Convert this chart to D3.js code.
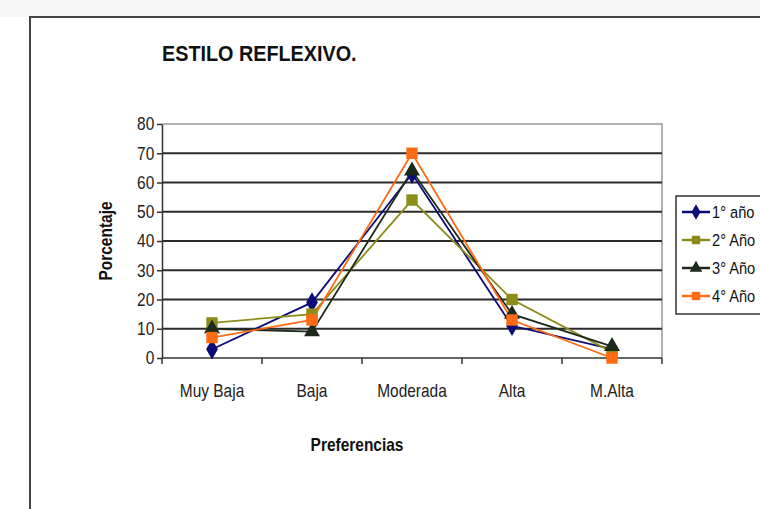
<!DOCTYPE html>
<html>
<head>
  <meta charset="utf-8">
  <script src="https://d3js.org/d3.v7.min.js"></script>
</head>
<style>
  body { margin: 0; background: #fff; }
  text { font-family: 'Liberation Sans', Arial, sans-serif; fill: #111; }
  .grid line { stroke: #2b2b2b; stroke-width: 2; }
  .axis path, .axis line { stroke: #333; stroke-width: 1.5; }
  .axis text { font-size: 18px; fill: #222; }
</style>
<body>
<script>
  // data
  var categories = ['Muy Baja', 'Baja', 'Moderada', 'Alta', 'M.Alta'];
  var seriesNames = ['1° año', '2° Año', '3° Año', '4° Año'];
  var year1 = [3, 19, 63, 11, 3];
  var year2 = [12, 15, 54, 20, 2];
  var year3 = [10, 9, 64, 15, 4];
  var year4 = [7, 13, 70, 13, 0];
  var yTicks = [0, 10, 20, 30, 40, 50, 60, 70, 80];

  var colors = ['#0a0a78', '#8c8c1a', '#1c2a1c', '#ff6a14'];
  var symbols = [d3.symbolDiamond, d3.symbolSquare, d3.symbolTriangle, d3.symbolSquare];
  var allSeries = [year1, year2, year3, year4];

  var width = 760, height = 509;
  var margin = {left: 162, right: 98, top: 124, bottom: 151};
  var narrow = 'scale(0.86,1)';

  var svg = d3.select('body').append('svg')
    .attr('width', width)
    .attr('height', height);

  // outer frame (cut by the page)
  svg.append('rect').attr('x', 0).attr('y', 0).attr('width', width).attr('height', 17).attr('fill', '#f7f7f7');
  svg.append('path')
    .attr('d', 'M30,' + (height + 2) + 'V17H' + (width + 2))
    .attr('fill', 'none').attr('stroke', '#444').attr('stroke-width', 2);

  var x = d3.scaleBand()
    .domain(categories)
    .range([margin.left, width - margin.right]);

  var y = d3.scaleLinear()
    .domain([0, 80])
    .range([height - margin.bottom, margin.top]);

  // plot border on the top and right
  svg.append('path')
    .attr('d', 'M' + margin.left + ',' + margin.top + 'H' + (width - margin.right) + 'V' + y(0))
    .attr('fill', 'none').attr('stroke', '#999').attr('stroke-width', 1.5);

  // gridlines
  svg.append('g').attr('class', 'grid')
    .selectAll('line')
    .data(yTicks.filter(function(d) { return d > 0 && d < 80; }))
    .enter().append('line')
    .attr('x1', margin.left).attr('x2', width - margin.right)
    .attr('y1', function(d) { return y(d); })
    .attr('y2', function(d) { return y(d); });

  // y axis
  var yAxis = svg.append('g').attr('class', 'axis')
    .attr('transform', 'translate(' + margin.left + ',0)')
    .call(d3.axisLeft(y).tickValues(yTicks).tickSize(5).tickPadding(4).tickSizeOuter(0));
  yAxis.selectAll('text').attr('transform', narrow);

  // x axis, ticks between categories
  var xAxis = svg.append('g').attr('class', 'axis')
    .attr('transform', 'translate(0,' + y(0) + ')');
  xAxis.append('line')
    .attr('x1', margin.left).attr('x2', width - margin.right)
    .attr('y1', 0).attr('y2', 0);
  var bounds = categories.map(function(c) { return x(c); }).concat([width - margin.right]);
  xAxis.selectAll('.tk').data(bounds).enter().append('line')
    .attr('class', 'tk')
    .attr('x1', function(d) { return d; }).attr('x2', function(d) { return d; })
    .attr('y1', 0).attr('y2', 6);
  xAxis.selectAll('.lbl').data(categories).enter().append('text')
    .attr('class', 'lbl')
    .attr('transform', function(d) {
      return 'translate(' + (x(d) + x.bandwidth() / 2) + ',39) ' + narrow;
    })
    .attr('text-anchor', 'middle')
    .text(function(d) { return d; });

  // titles
  svg.append('text')
    .attr('transform', 'translate(162,61) scale(0.9,1)')
    .style('font-size', '22px').style('font-weight', 'bold')
    .text('ESTILO REFLEXIVO.');

  svg.append('text')
    .attr('transform', 'translate(112,' + y(40) + ') rotate(-90) ' + narrow)
    .attr('text-anchor', 'middle')
    .style('font-size', '18px').style('font-weight', 'bold')
    .text('Porcentaje');

  svg.append('text')
    .attr('transform', 'translate(357,451) ' + narrow)
    .attr('text-anchor', 'middle')
    .style('font-size', '18px').style('font-weight', 'bold')
    .text('Preferencias');

  // lines and markers
  var line = d3.line()
    .x(function(d, i) { return x(categories[i]) + x.bandwidth() / 2; })
    .y(function(d) { return y(d); });

  allSeries.forEach(function(s, k) {
    svg.append('path')
      .datum(s)
      .attr('d', line)
      .attr('fill', 'none')
      .attr('stroke', colors[k])
      .attr('stroke-width', 1.8);
  });

  allSeries.forEach(function(s, k) {
    svg.selectAll('.m' + k).data(s).enter().append('path')
      .attr('class', 'm' + k)
      .attr('transform', function(d, i) {
        return 'translate(' + (x(categories[i]) + x.bandwidth() / 2) + ',' + y(d) + ')';
      })
      .attr('d', d3.symbol().type(symbols[k]).size(k === 0 ? 120 : k === 2 ? 110 : 130))
      .attr('fill', colors[k]);
  });

  // legend
  var legend = svg.append('g').attr('transform', 'translate(676,196)');
  legend.append('rect')
    .attr('x', 0).attr('y', 0).attr('width', 100).attr('height', 118)
    .attr('fill', '#fff').attr('stroke', '#333').attr('stroke-width', 1.5);
  var item = legend.selectAll('.item').data(seriesNames).enter().append('g')
    .attr('class', 'item')
    .attr('transform', function(d, i) { return 'translate(0,' + (16 + i * 28) + ')'; });
  item.append('line')
    .attr('x1', 6).attr('x2', 34).attr('y1', 0).attr('y2', 0)
    .attr('stroke', function(d, i) { return colors[i]; })
    .attr('stroke-width', 2.5);
  item.append('path')
    .attr('transform', 'translate(20,0)')
    .attr('d', function(d, i) { return d3.symbol().type(symbols[i]).size(70)(); })
    .attr('fill', function(d, i) { return colors[i]; });
  item.append('text')
    .attr('transform', 'translate(36,6) ' + narrow)
    .style('font-size', '17px')
    .text(function(d) { return d; });
</script>
</body>
</html>
